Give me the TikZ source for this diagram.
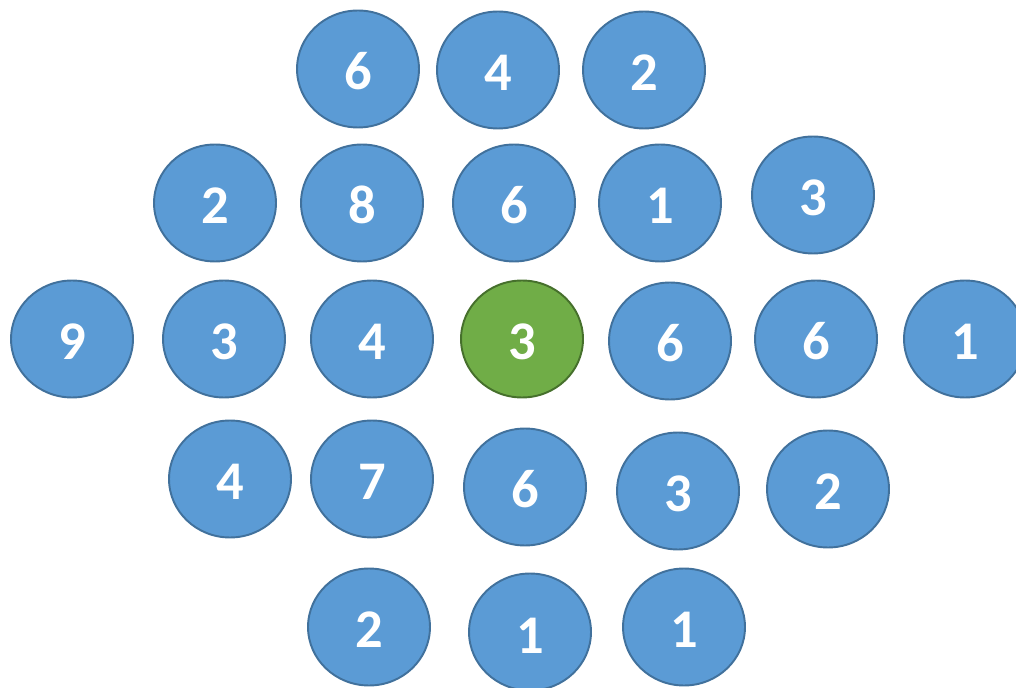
\documentclass[tikz,border=0pt]{standalone}
\usepackage{fontspec}
\setmainfont{Carlito}
\usetikzlibrary{shapes.geometric}
\definecolor{ballfill}{HTML}{5B9BD5}
\definecolor{balledge}{HTML}{41719C}
\definecolor{seedfill}{HTML}{70AD47}
\definecolor{seededge}{HTML}{46702C}
\tikzset{
  ball/.style={ellipse,fill=ballfill,draw=balledge,line width=1.1pt,
    minimum width=2.44cm,minimum height=2.34cm,inner sep=0pt,
    text=white,font=\fontsize{31}{31}\selectfont\bfseries,
    text height=0.84cm,text depth=0pt},
  seed/.style={ball,fill=seedfill,draw=seededge}
}
\begin{document}
\begin{tikzpicture}[x=0.02cm,y=-0.02cm]
\useasboundingbox (0,0) rectangle (1016,688);
% top row
\node[ball] (n11) at (358,69) {6};
\node[ball] (n12) at (498,70) {4};
\node[ball] (n13) at (644,70) {2};
% second row
\node[ball] (n21) at (215,203) {2};
\node[ball] (n22) at (362,203) {8};
\node[ball] (n23) at (514,203) {6};
\node[ball] (n24) at (660,203) {1};
\node[ball] (n25) at (813,195) {3};
% middle row
\node[ball] (n31) at (72,339) {9};
\node[ball] (n32) at (224,339) {3};
\node[ball] (n33) at (372,339) {4};
\node[seed] (n34) at (522,339) {3};
\node[ball] (n35) at (670,341) {6};
\node[ball] (n36) at (816,339) {6};
\node[ball] (n37) at (965,339) {1};
% fourth row
\node[ball] (n41) at (230,479) {4};
\node[ball] (n42) at (372,479) {7};
\node[ball] (n43) at (525,487) {6};
\node[ball] (n44) at (678,491) {3};
\node[ball] (n45) at (828,489) {2};
% bottom row
\node[ball] (n51) at (369,627) {2};
\node[ball] (n52) at (530,632) {1};
\node[ball] (n53) at (684,627) {1};
\end{tikzpicture}
\end{document}
